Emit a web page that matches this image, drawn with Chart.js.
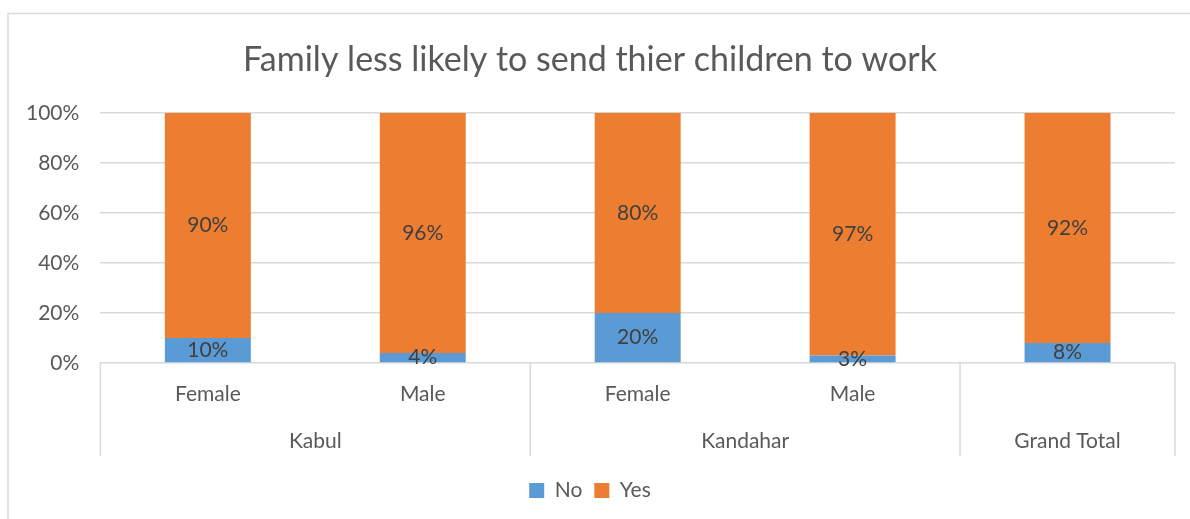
<!DOCTYPE html>
<html>
<head>
<meta charset="utf-8">
<script src="https://cdn.jsdelivr.net/npm/chart.js@4"></script>
<style>
  html, body { margin: 0; padding: 0; background: #fff; }
  #wrap { width: 1190px; height: 519px; position: relative; }
</style>
</head>
<body>
<div id="wrap"><canvas id="chart" width="1190" height="519"></canvas></div>
<script>
const genders = ['Female', 'Male', 'Female', 'Male', ''];
const provinces = ['Kabul', 'Kabul', 'Kandahar', 'Kandahar', 'Grand Total'];
const noValues = [10, 4, 20, 3, 8];
const yesValues = [90, 96, 80, 97, 92];
const yTicks = [0, 20, 40, 60, 80, 100];

const FONT = 'Lato, "Open Sans", sans-serif';
const TEXT = '#595959';
const GRID = '#d9d9d9';

// outer frame of the chart
const framePlugin = {
  id: 'frame',
  beforeDraw(chart) {
    const c = chart.ctx;
    c.save();
    c.fillStyle = '#fff';
    c.fillRect(0, 0, chart.width, chart.height);
    c.strokeStyle = GRID;
    c.lineWidth = 1.5;
    c.beginPath();
    c.moveTo(8, chart.height);
    c.lineTo(8, 13.5);
    c.lineTo(chart.width, 13.5);
    c.stroke();
    c.restore();
  }
};

// values written in the middle of each segment
const valueLabels = {
  id: 'valueLabels',
  afterDatasetsDraw(chart) {
    const c = chart.ctx;
    c.save();
    c.font = '21px ' + FONT;
    c.fillStyle = '#404040';
    c.textAlign = 'center';
    c.textBaseline = 'middle';
    chart.data.datasets.forEach((ds, i) => {
      chart.getDatasetMeta(i).data.forEach((bar, j) => {
        const y = (bar.y + bar.base) / 2;
        c.fillText(ds.data[j] + '%', bar.x, y);
      });
    });
    c.restore();
  }
};

// second level of category labels: province groups with separators
const groupAxis = {
  id: 'groupAxis',
  afterDraw(chart) {
    const x = chart.scales.x;
    const top = chart.chartArea.bottom;
    const bottom = top + 93;
    const c = chart.ctx;
    const half = (x.getPixelForValue(1) - x.getPixelForValue(0)) / 2;
    const groups = [];
    provinces.forEach((p, i) => {
      const last = groups[groups.length - 1];
      if (last && last.name === p) last.end = i;
      else groups.push({ name: p, start: i, end: i });
    });
    c.save();
    c.strokeStyle = GRID;
    c.lineWidth = 1.5;
    c.font = '21px ' + FONT;
    c.fillStyle = TEXT;
    c.textAlign = 'center';
    c.textBaseline = 'middle';
    groups.forEach((g, k) => {
      const l = x.getPixelForValue(g.start) - half;
      const r = x.getPixelForValue(g.end) + half;
      c.beginPath();
      if (k === 0) { c.moveTo(l, top); c.lineTo(l, bottom); }
      c.moveTo(r, top); c.lineTo(r, bottom);
      c.stroke();
      c.fillText(g.name, (l + r) / 2, top + 78);
    });
    c.restore();
  }
};

new Chart(document.getElementById('chart'), {
  type: 'bar',
  data: {
    labels: genders,
    datasets: [
      { label: 'No', data: noValues, backgroundColor: '#5b9bd5', barPercentage: 0.8, categoryPercentage: 0.5 },
      { label: 'Yes', data: yesValues, backgroundColor: '#ed7d31', barPercentage: 0.8, categoryPercentage: 0.5 }
    ]
  },
  options: {
    responsive: false,
    animation: false,
    layout: { padding: { left: 5, right: 15, top: 20, bottom: 8 } },
    plugins: {
      title: {
        display: true,
        text: 'Family less likely to send thier children to work',
        color: TEXT,
        font: { family: FONT, size: 34, weight: 'normal' },
        padding: { top: 20, bottom: 32 }
      },
      legend: {
        position: 'bottom',
        labels: {
          color: TEXT,
          font: { family: FONT, size: 21 },
          boxWidth: 15,
          boxHeight: 15,
          padding: 12
        }
      },
      tooltip: { enabled: false }
    },
    scales: {
      x: {
        stacked: true,
        grid: { display: false },
        border: { display: false },
        ticks: { color: TEXT, font: { family: FONT, size: 21 }, padding: 11 },
        afterFit(scale) { scale.height = 105; }
      },
      y: {
        stacked: true,
        min: 0,
        max: 100,
        afterBuildTicks(scale) { scale.ticks = yTicks.map(v => ({ value: v })); },
        grid: { color: GRID, lineWidth: 1.5, drawTicks: false },
        border: { display: false },
        ticks: {
          color: TEXT,
          font: { family: FONT, size: 21 },
          padding: 21,
          callback: v => v + '%'
        }
      }
    }
  },
  plugins: [framePlugin, valueLabels, groupAxis]
});
</script>
</body>
</html>
